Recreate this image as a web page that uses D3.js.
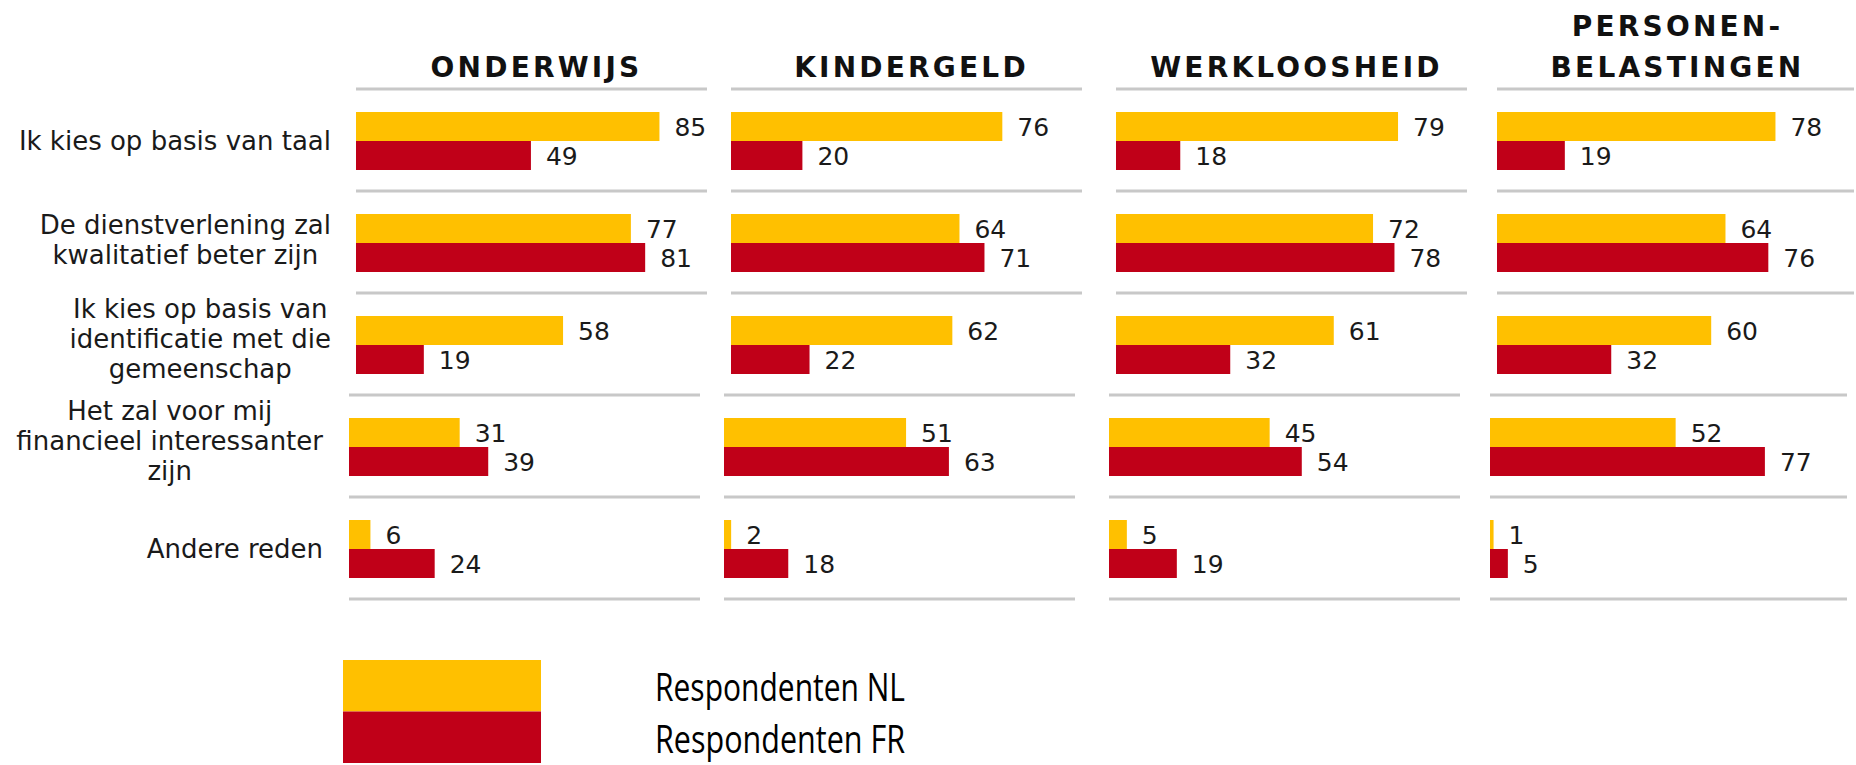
<!DOCTYPE html>
<html>
<head>
<meta charset="utf-8">
<script src="https://cdn.jsdelivr.net/npm/d3@7"></script>
<style>
    body { margin: 0; background: #fff; }
    svg { display: block; }
</style>
</head>
<body>
<div id="vis-container"></div>
<script>
// data
const reasons = [
    "Ik kies op basis van taal",
    "De dienstverlening zal kwalitatief beter zijn",
    "Ik kies op basis van identificatie met die gemeenschap",
    "Het zal voor mij financieel interessanter zijn",
    "Andere reden"
]
const reasonLines = [
    ["Ik kies op basis van taal"],
    ["De dienstverlening zal", "kwalitatief beter zijn"],
    ["Ik kies op basis van", "identificatie met die", "gemeenschap"],
    ["Het zal voor mij", "financieel interessanter", "zijn"],
    ["Andere reden"]
]
const domains = ["ONDERWIJS", "KINDERGELD", "WERKLOOSHEID", "PERSONENBELASTINGEN"]
const domainLines = [["ONDERWIJS"], ["KINDERGELD"], ["WERKLOOSHEID"], ["PERSONEN-", "BELASTINGEN"]]

// percentages per domain, in the order of reasons
const valuesNL = [
    [85, 77, 58, 31, 6],
    [76, 64, 62, 51, 2],
    [79, 72, 61, 45, 5],
    [78, 64, 60, 52, 1]
]
const valuesFR = [
    [49, 81, 19, 39, 24],
    [20, 71, 22, 63, 18],
    [18, 78, 32, 54, 19],
    [19, 76, 32, 77, 5]
]
const seriesNames = ["Respondenten NL", "Respondenten FR"]
const colors = ["#FFC000", "#C00018"]

// layout
const svgWidth = 1856
const svgHeight = 765
const panelStart = [356, 731, 1116, 1497]
const panelWidth = 357
const ruleWidth = 351
const shiftLower = -7      // the last two rows sit a few px to the left
const tableTop = 89
const tableBottom = 599
const barOffset = 23
const barH = 29

const svg = d3.select('#vis-container')
    .append('svg')
    .attr('width', svgWidth)
    .attr('height', svgHeight)

const yScale = d3.scaleBand()
    .domain(reasons)
    .range([tableTop, tableBottom])

const xScale = d3.scaleLinear()
    .domain([0, 100])
    .range([0, panelWidth])

const shiftFor = i => i >= 3 ? shiftLower : 0

// table
let rows = []
domains.forEach((dom, p) => {
    reasons.forEach((r, i) => {
        rows.push({ p: p, i: i, reason: r, nl: valuesNL[p][i], fr: valuesFR[p][i] })
    })
})

// separators
let rules = []
domains.forEach((dom, p) => {
    d3.range(reasons.length + 1).forEach(k => rules.push({ p: p, k: k }))
})

svg.append('g').selectAll('line')
    .data(rules)
    .join('line')
    .attr('x1', d => panelStart[d.p] + shiftFor(d.k))
    .attr('x2', d => Math.min(svgWidth, panelStart[d.p] + shiftFor(d.k) + ruleWidth + (d.p == 3 ? 6 : 0)))
    .attr('y1', d => tableTop + d.k * yScale.bandwidth())
    .attr('y2', d => tableTop + d.k * yScale.bandwidth())
    .attr('stroke', '#c8c8c8')
    .attr('stroke-width', 3)

// headers
const header = svg.append('g')
    .selectAll('text')
    .data(domains)
    .join('text')
    .attr('text-anchor', 'middle')
    .attr('font-family', 'DejaVu Sans, Verdana, sans-serif')
    .attr('font-weight', 'bold')
    .attr('font-size', 28)
    .attr('letter-spacing', 3.2)
    .attr('fill', '#111')

header.selectAll('tspan')
    .data((d, p) => domainLines[p].map((t, j, arr) => ({ t: t, j: j, n: arr.length, p: p })))
    .join('tspan')
    .attr('x', d => panelStart[d.p] + ruleWidth / 2 + 5)
    .attr('y', d => 77 - (d.n - 1 - d.j) * 41)
    .text(d => d.t)

// bars
const barG = svg.append('g')
rows.forEach(d => {
    const x0 = panelStart[d.p] + shiftFor(d.i)
    const y0 = yScale(d.reason) + barOffset
    ;[d.nl, d.fr].forEach((v, s) => {
        barG.append('rect')
            .attr('x', x0)
            .attr('y', y0 + s * barH)
            .attr('width', xScale(v))
            .attr('height', barH)
            .attr('fill', colors[s])
        barG.append('text')
            .attr('x', x0 + xScale(v) + 15)
            .attr('y', y0 + s * barH + barH / 2)
            .attr('dy', '0.36em')
            .attr('font-family', 'DejaVu Sans, Verdana, sans-serif')
            .attr('font-size', 25)
            .attr('fill', '#1a1a1a')
            .text(v)
    })
})

// row labels, centred block right-aligned against the first panel
const labelG = svg.append('g')
reasons.forEach((r, i) => {
    const right = 331 + (i >= 3 ? -8 : 0)
    const cy = yScale(r) + barOffset + barH
    const lines = reasonLines[i]
    const n = lines.length
    const t = labelG.append('text')
        .attr('font-family', 'DejaVu Sans, Verdana, sans-serif')
        .attr('font-size', 26)
        .attr('fill', '#1a1a1a')
        .attr('text-anchor', 'middle')
    const spans = lines.map((ln, j) => t.append('tspan')
        .attr('y', cy + (j - (n - 1) / 2) * 30 + 9 - (n - 1) * 3)
        .text(ln))
    const maxW = d3.max(spans, s => s.node().getComputedTextLength())
    spans.forEach(s => s.attr('x', right - maxW / 2))
})

// legend
const legend = svg.append('g')
seriesNames.forEach((name, s) => {
    legend.append('rect')
        .attr('x', 343)
        .attr('y', 660 + s * 51.5)
        .attr('width', 198)
        .attr('height', 51.5)
        .attr('fill', colors[s])
    legend.append('text')
        .attr('x', 655)
        .attr('y', 701 + s * 52)
        .attr('font-family', 'Open Sans, sans-serif')
        .attr('font-size', 38)
        .attr('textLength', 250)
        .attr('lengthAdjust', 'spacingAndGlyphs')
        .attr('fill', '#000')
        .text(name)
})
</script>
</body>
</html>
